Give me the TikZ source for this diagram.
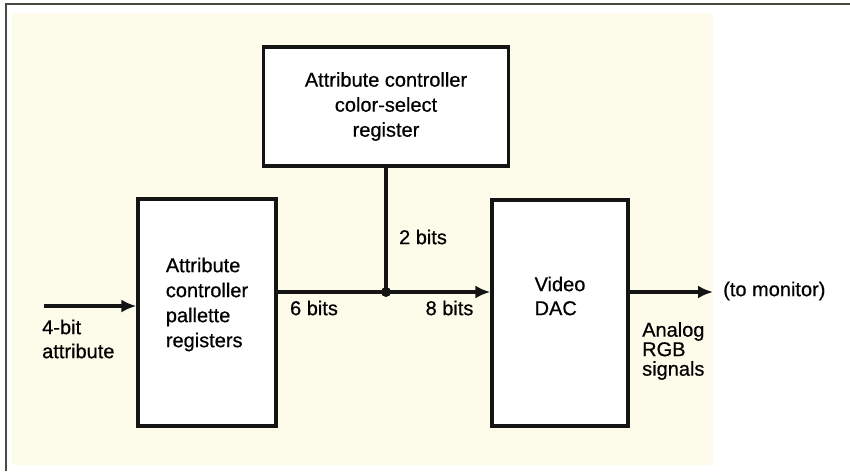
\documentclass[tikz,border=0pt]{standalone}
\usepackage{fontspec}
\setmainfont{Liberation Sans}[FakeBold=0.6]
\usepackage{xcolor}
\usepackage{tikz}
\usetikzlibrary{arrows.meta,positioning,calc}
\definecolor{paper}{HTML}{FDFBEA}
\definecolor{frame}{HTML}{4A4A40}
\definecolor{ink}{HTML}{141414}
\tikzset{
  regbox/.style={
    draw=ink,fill=white,line width=3.2pt,
    inner sep=0pt
  },
  boxtext/.style={
    align=left,inner sep=0pt,
    font=\fontsize{20}{25}\selectfont
  },
  sigtext/.style={
    align=left,inner sep=0pt,
    font=\fontsize{20}{24}\selectfont
  },
  wire/.style={draw=ink,line width=3.2pt},
  arrow/.style={-{Latex[length=15pt,width=13pt]},draw=ink,line width=3.2pt}
}
\begin{document}
\begin{tikzpicture}[x=1pt,y=-1pt]
\useasboundingbox (0,0) rectangle (850,471);
% page and frame
\fill[paper] (12,13) rectangle (713,465);
\draw[frame,line width=2.6pt] (6,471) -- (6,4) -- (850,4);

% registers
\node[regbox,minimum width=245,minimum height=119] (sel) at (386,106.5) {};
\node[boxtext,align=center] (seltext) at (sel)
{Attribute controller\\color-select\\register};

\node[regbox,minimum width=138,minimum height=227] (pal) at (207,312.5) {};
\node[boxtext] (paltext) at ([yshift=8]pal.center)
{Attribute\\controller\\pallette\\registers};

\node[regbox,minimum width=136,minimum height=226] (dac) at (560,313) {};
\node[boxtext,font=\fontsize{20}{24}\selectfont] (dactext) at ([yshift=17]dac.center)
{Video\\DAC};

% connection points
\coordinate (in) at (44,306);
\coordinate (jn) at (386,292);
\coordinate (mon) at (713,292);

\draw[arrow] (in) -- (in -| pal.west);
\draw[wire] (pal.east |- jn) -- (jn);
\draw[wire] (sel.south) -- (jn);
\fill[ink] (jn) circle[radius=5pt];
\draw[arrow] (jn) -- (jn -| dac.west);
\draw[arrow] (jn -| dac.east) -- (mon);

% signal labels
\node[sigtext,anchor=west] (attr) at (42,339) {4-bit\\attribute};
\node[sigtext] (six) at (314,308) {6 bits};
\node[sigtext] (eight) at (449.5,308) {8 bits};
\node[sigtext] (two) at (423,237) {2 bits};
\node[sigtext,anchor=west,font=\fontsize{20}{19.5}\selectfont] (rgb) at (642,351)
{Analog\\RGB\\signals};
\node[sigtext,anchor=west] (tomon) at (723,291) {(to monitor)};
\end{tikzpicture}
\end{document}
